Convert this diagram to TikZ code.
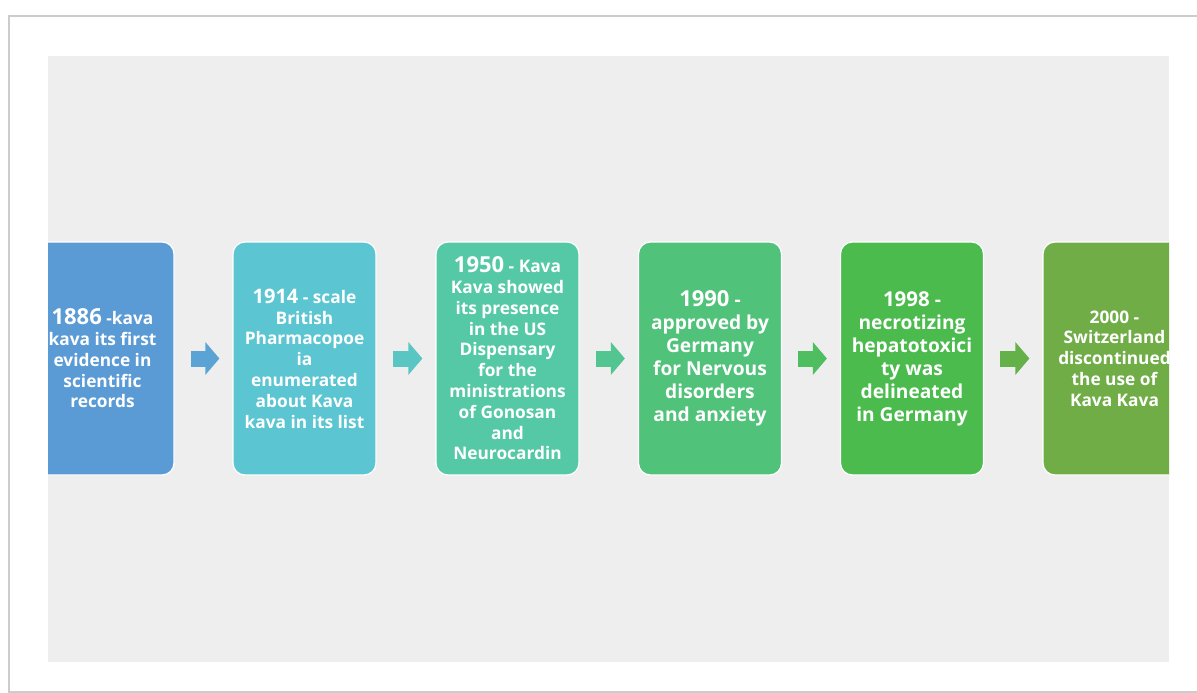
\documentclass[tikz,border=0pt]{standalone}
\usepackage{fontspec}
\setmainfont{Open Sans}
\usepackage{tikz}
\usetikzlibrary{arrows.meta}
\definecolor{kavablue}{RGB}{91,155,213}
\definecolor{kavacyan}{RGB}{91,197,209}
\definecolor{kavateal}{RGB}{85,201,166}
\definecolor{kavagreen}{RGB}{80,194,122}
\definecolor{kavalime}{RGB}{76,187,78}
\definecolor{kavaolive}{RGB}{112,173,71}
\definecolor{panelgrey}{RGB}{238,238,238}
\newcommand{\yr}[2]{{\fontsize{#1}{#1}\selectfont #2}}

\begin{document}
\begin{tikzpicture}[x=1pt,y=-1pt,
    event/.style={draw=white, line width=1.2pt, rounded corners=12pt, fill=#1,
        minimum width=143pt, minimum height=233pt, inner sep=0pt,
        align=center, text=white},
    small/.style={font=\bfseries\fontsize{17.3}{20.8}\selectfont},
    large/.style={font=\bfseries\fontsize{19.2}{23}\selectfont},
    nextarrow/.style={draw=#1, line width=16pt,
        -{Triangle[length=14pt,width=32pt]}, shorten <=16pt, shorten >=13pt}]
    \useasboundingbox (0,0) rectangle (1197,693);

    % Page and panel
    \draw[gray!40, line width=1.5pt, fill=white] (9,16) rectangle (1220,692);
    \fill[panelgrey] (48,56) rectangle (1169,662);

    % Timeline boxes
    \begin{scope}
    \clip (48,56) rectangle (1169,662);
    \node[event=kavablue, small] (e1) at (102.5,358.5)
        {\yr{22}{1886} -kava\\kava its first\\evidence in\\scientific\\records};
    \node[event=kavacyan, small] (e2) at (304.5,358.5)
        {\yr{20}{1914} - scale\\British\\Pharmacopoe\\ia\\enumerated\\about Kava\\kava in its list};
    \node[event=kavateal, small] (e3) at (507.5,358.5)
        {\yr{22}{1950} - Kava\\Kava showed\\its presence\\in the US\\Dispensary\\for the\\ministrations\\of Gonosan\\and\\Neurocardin};
    \node[event=kavagreen, large] (e4) at (710,358.5)
        {\yr{22}{1990} -\\approved by\\Germany\\for Nervous\\disorders\\and anxiety};
    \node[event=kavalime, large] (e5) at (912,358.5)
        {\yr{20.5}{1998} -\\necrotizing\\hepatotoxici\\ty was\\delineated\\in Germany};
    \node[event=kavaolive, small] (e6) at (1114.5,358.5)
        {2000 -\\Switzerland\\discontinued\\the use of\\Kava Kava};
    \end{scope}

    % Connections
    \draw[nextarrow=kavablue!80!kavacyan] (e1) -- (e2);
    \draw[nextarrow=kavacyan!70!kavateal] (e2) -- (e3);
    \draw[nextarrow=kavateal!50!kavagreen] (e3) -- (e4);
    \draw[nextarrow=kavagreen!40!kavalime] (e4) -- (e5);
    \draw[nextarrow=kavalime!30!kavaolive] (e5) -- (e6);
\end{tikzpicture}
\end{document}
